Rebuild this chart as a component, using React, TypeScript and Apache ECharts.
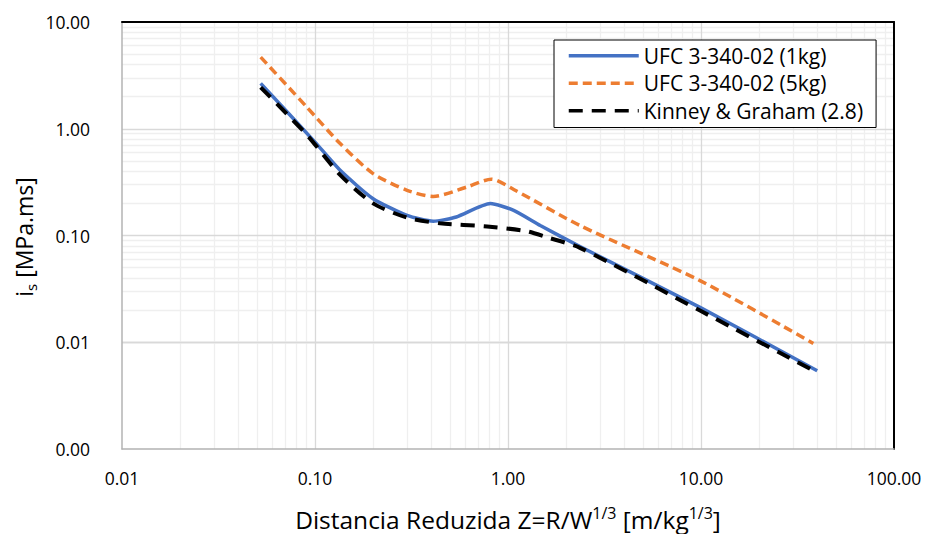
import React, { useEffect, useRef } from "react";
import * as echarts from "echarts";

// Scaled distance Z [m/kg^(1/3)] and specific impulse i_s [MPa.ms]
const ufc1kgZ = [0.0523, 0.1, 0.135, 0.2, 0.3, 0.41, 0.54, 0.81, 1.07, 1.47, 2.36, 9.88, 40];
const ufc1kgI = [2.66, 0.75, 0.408, 0.221, 0.154, 0.136, 0.149, 0.199, 0.172, 0.124, 0.0788, 0.0212, 0.0054];

const ufc5kgZ = [0.0523, 0.0906, 0.135, 0.2, 0.3, 0.41, 0.61, 0.82, 1.07, 2.36, 9.88, 38.2];
const ufc5kgI = [4.69, 1.6, 0.726, 0.38, 0.265, 0.232, 0.284, 0.337, 0.27, 0.124, 0.0378, 0.00975];

const kinneyZ = [0.0523, 0.0906, 0.135, 0.2, 0.3, 0.444, 0.78, 1.25, 1.585, 2.36, 9.88, 37];
const kinneyI = [2.44, 0.88, 0.37, 0.2, 0.147, 0.13, 0.1216, 0.1097, 0.0964, 0.0766, 0.0198, 0.0056];

const seriesNames = ["UFC 3-340-02 (1kg)", "UFC 3-340-02 (5kg)", "Kinney & Graham (2.8)"];

// Log-grid: decade starts and the 2..9 subdivisions inside each decade
const xDecades = [0.01, 0.1, 1, 10];
const yDecades = [0.001, 0.01, 0.1, 1];
const subSteps = [2, 3, 4, 5, 6, 7, 8, 9];

const FONT = "'Open Sans', 'Noto Sans', sans-serif";

const pairs = (xs: number[], ys: number[]) => xs.map((x, i) => [x, ys[i]]);

export default function App() {
  const ref = useRef<HTMLDivElement>(null);

  useEffect(() => {
    if (!ref.current) return;
    const chart = echarts.init(ref.current, undefined, { renderer: "svg" });

    const fmt = (v: number) => v.toFixed(2);

    const minorStyle = { color: "#efefef", width: 1.3, type: "solid" as const };
    const majorStyle = { color: "#d9d9d9", width: 1.3, type: "solid" as const };

    const gridLines: any[] = [];
    xDecades.forEach((d) =>
      subSteps.forEach((s) => gridLines.push({ xAxis: d * s, lineStyle: minorStyle }))
    );
    yDecades.forEach((d) =>
      subSteps.forEach((s) => gridLines.push({ yAxis: d * s, lineStyle: minorStyle }))
    );
    xDecades.slice(1).forEach((d) => gridLines.push({ xAxis: d, lineStyle: majorStyle }));
    yDecades.slice(1).forEach((d) => gridLines.push({ yAxis: d, lineStyle: majorStyle }));

    const logAxisCommon = {
      type: "log" as const,
      logBase: 10,
      interval: 1,
    };

    chart.setOption({
      animation: false,
      backgroundColor: "#fff",
      grid: { left: 122, right: 38, top: 22, bottom: 85, containLabel: false },
      xAxis: [
        {
          ...logAxisCommon,
          min: 0.01,
          max: 100,
          position: "bottom",
          z: 5,
          axisLine: { show: true, lineStyle: { color: "#b3b3b3", width: 1.5 } },
          axisTick: { show: false },
          axisLabel: {
            formatter: fmt,
            margin: 20,
            fontSize: 17.5,
            fontFamily: FONT,
            color: "#000",
          },
          splitLine: { show: false },
        },
        {
          ...logAxisCommon,
          min: 0.01,
          max: 100,
          position: "top",
          z: 5,
          axisLine: { show: true, onZero: false, lineStyle: { color: "#000", width: 2 } },
          axisTick: { show: false },
          axisLabel: { show: false },
          splitLine: { show: false },
        },
      ],
      yAxis: [
        {
          ...logAxisCommon,
          min: 0.001,
          max: 10,
          position: "left",
          z: 5,
          axisLine: { show: true, lineStyle: { color: "#b3b3b3", width: 1.5 } },
          axisTick: { show: false },
          axisLabel: {
            formatter: fmt,
            margin: 32,
            fontSize: 17.5,
            fontFamily: FONT,
            color: "#000",
          },
          splitLine: { show: false },
        },
        {
          ...logAxisCommon,
          min: 0.001,
          max: 10,
          position: "right",
          z: 5,
          axisLine: { show: true, onZero: false, lineStyle: { color: "#000", width: 2 } },
          axisTick: { show: false },
          axisLabel: { show: false },
          splitLine: { show: false },
        },
      ],
      legend: {
        orient: "vertical",
        left: 554,
        top: 40,
        z: 10,
        padding: [2, 13, 3, 13],
        itemGap: 0,
        itemWidth: 70,
        itemHeight: 14,
        borderColor: "#000",
        borderWidth: 1,
        backgroundColor: "#fff",
        selectedMode: false,
        itemStyle: { opacity: 0 },
        lineStyle: { width: 3.5 },
        textStyle: { fontSize: 21, fontFamily: FONT, color: "#000", lineHeight: 27.5 },
        data: seriesNames,
      },
      series: [
        {
          name: "grid",
          type: "line",
          data: [],
          silent: true,
          z: 1,
          markLine: {
            z: 1,
            silent: true,
            symbol: "none",
            label: { show: false },
            emphasis: { disabled: true },
            data: gridLines,
          },
        },
        {
          name: seriesNames[0],
          type: "line",
          data: pairs(ufc1kgZ, ufc1kgI),
          smooth: 0.2,
          symbol: "none",
          lineStyle: { color: "#4472c4", width: 3.5 },
          itemStyle: { color: "#4472c4" },
          z: 3,
        },
        {
          name: seriesNames[1],
          type: "line",
          data: pairs(ufc5kgZ, ufc5kgI),
          smooth: 0.25,
          symbol: "none",
          lineStyle: { color: "#ed7d31", width: 3.5, type: [9, 5] },
          itemStyle: { color: "#ed7d31" },
          z: 2,
        },
        {
          name: seriesNames[2],
          type: "line",
          data: pairs(kinneyZ, kinneyI),
          smooth: 0.25,
          symbol: "none",
          lineStyle: { color: "#000", width: 4, type: [14, 9] },
          itemStyle: { color: "#000" },
          z: 4,
        },
      ],
      graphic: [
        {
          type: "text",
          x: 508,
          y: 519,
          style: {
            text: "{n|Distancia Reduzida Z=R/W}{sup|1/3}{n| [m/kg}{sup|1/3}{n|]}",
            align: "center",
            verticalAlign: "middle",
            rich: {
              n: { fontSize: 24.5, fontFamily: FONT, fill: "#000", color: "#000", lineHeight: 28 },
              sup: {
                fontSize: 16,
                fontFamily: FONT,
                fill: "#000",
                color: "#000",
                lineHeight: 14,
                verticalAlign: "top",
              },
            },
          },
        },
        {
          type: "text",
          x: 24,
          y: 237,
          rotation: Math.PI / 2,
          style: {
            text: "{n|i}{sub|s}{n| [MPa.ms]}",
            align: "center",
            verticalAlign: "middle",
            rich: {
              n: { fontSize: 23, fontFamily: FONT, fill: "#000", color: "#000", lineHeight: 28 },
              sub: {
                fontSize: 15,
                fontFamily: FONT,
                fill: "#000",
                color: "#000",
                lineHeight: 14,
                verticalAlign: "bottom",
              },
            },
          },
        },
      ],
    });

    return () => chart.dispose();
  }, []);

  return (
    <div
      ref={ref}
      style={{ position: "fixed", left: 0, top: 0, width: 932, height: 534 }}
    />
  );
}
